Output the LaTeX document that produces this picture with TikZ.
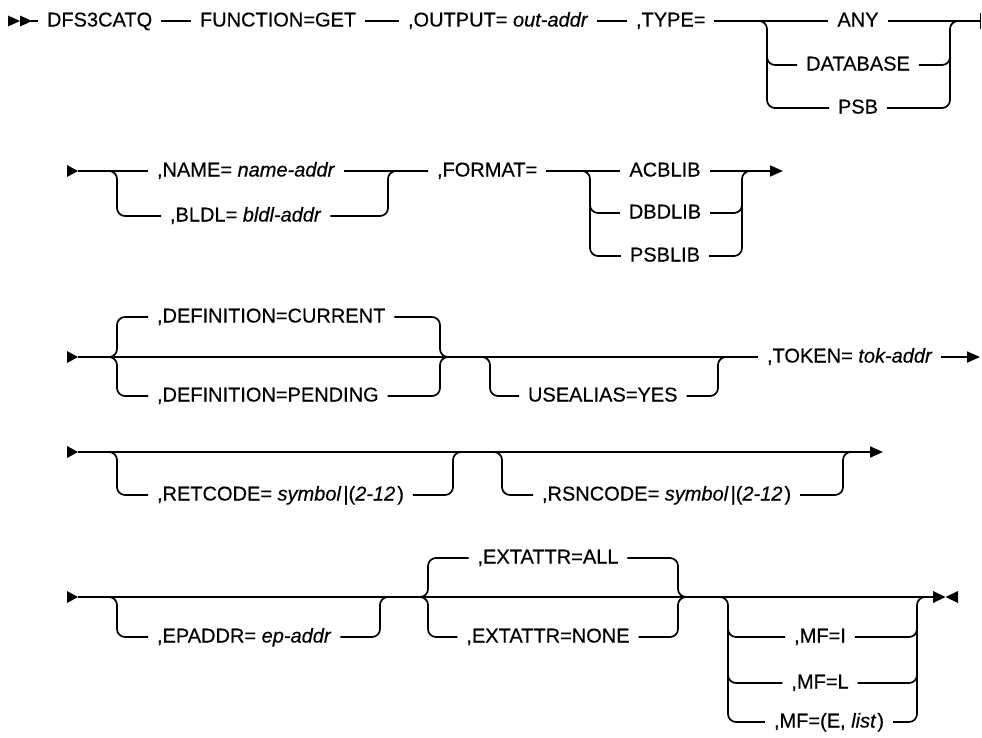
\documentclass[tikz,border=0pt]{standalone}
\usepackage{fontspec}
\setmainfont{Liberation Sans}[FakeBold=0.4,ItalicFeatures={FakeBold=0.4}]
\usetikzlibrary{arrows.meta}
\begin{document}
\begin{tikzpicture}[x=1pt,y=-1pt,line width=1.7pt,
  lbl/.style={inner xsep=9pt,inner ysep=0pt,outer sep=0pt,text height=11pt,text depth=0pt,anchor=west,font=\fontsize{20}{24}\selectfont},
  lblc/.style={lbl,anchor=center},
  rail/.style={rounded corners=8pt},
  endarrow/.style={-{Triangle[length=13pt,width=11pt]}}]
\useasboundingbox (0,0) rectangle (982,737);

% ---------------- Row 1 ----------------
\fill[black] (8,15.5) -- (20,21) -- (8,26.5) -- cycle;
\fill[black] (20,15.5) -- (32,21) -- (20,26.5) -- cycle;
\coordinate (s1) at (31,21);
\node[lbl] (dfs) at (38,21) {DFS3CATQ};
\node[lbl] (fun) at (191,21) {FUNCTION=GET};
\node[lbl] (out) at (399,21) {,OUTPUT= \textit{out-addr}};
\node[lbl] (typ) at (627,21) {,TYPE=};
\node[lblc] (any) at (858,21) {ANY};
\node[lblc] (dat) at (858,65) {DATABASE};
\node[lblc] (psb) at (858,108) {PSB};
\coordinate (tL) at (767,21);
\coordinate (tLm) at (767,40);
\coordinate (tR) at (950,21);
\coordinate (tRm) at (950,40);
\coordinate (e1) at (980,21);
\coordinate (e1a) at (980.5,13);
\coordinate (e1b) at (980.5,29);
\draw (s1) -- (dfs.west);
\draw (dfs.east) -- (fun.west);
\draw (fun.east) -- (out.west);
\draw (out.east) -- (typ.west);
\draw (typ.east) -- (any.west);
\draw[rail] (typ.east) -- (tL) -- (tL |- psb.west) -- (psb.west);
\draw[rail] (tLm) -- (tL |- dat.west) -- (dat.west);
\draw (any.east) -- (e1);
\draw[rail] (psb.east) -- (tR |- psb.east) -- (tR) -- (e1);
\draw[rail] (dat.east) -- (tR |- dat.east) -- (tRm);
\draw (e1a) -- (e1b);

% ---------------- Row 2 ----------------
\fill[black] (67,165) -- (78,171) -- (67,177) -- cycle;
\coordinate (r2) at (78,171);
\node[lbl] (nam) at (148,171) {,NAME= \textit{name-addr}};
\node[lbl] (bld) at (161,216) {,BLDL= \textit{bldl-addr}};
\node[lbl] (fmt) at (428,171) {,FORMAT=};
\coordinate (nL) at (117,171);
\coordinate (nR) at (388,171);
\draw (r2) -- (nam.west);
\draw[rail] (r2) -- (nL) -- (nL |- bld.west) -- (bld.west);
\draw (nam.east) -- (fmt.west);
\draw[rail] (bld.east) -- (nR |- bld.east) -- (nR) -- (fmt.west);
\node[lblc] (acb) at (665,171) {ACBLIB};
\node[lblc] (dbd) at (665,213) {DBDLIB};
\node[lblc] (psl) at (665,256) {PSBLIB};
\coordinate (fL) at (590,171);
\coordinate (fLm) at (590,190);
\coordinate (fR) at (742,171);
\coordinate (fRm) at (742,190);
\coordinate (fRe) at (760,171);
\coordinate (e2) at (783,171);
\draw (fmt.east) -- (acb.west);
\draw[rail] (fmt.east) -- (fL) -- (fL |- psl.west) -- (psl.west);
\draw[rail] (fLm) -- (fL |- dbd.west) -- (dbd.west);
\draw[endarrow] (acb.east) -- (e2);
\draw[rail] (psl.east) -- (fR |- psl.east) -- (fR) -- (fRe);
\draw[rail] (dbd.east) -- (fR |- dbd.east) -- (fRm);

% ---------------- Row 3 ----------------
\fill[black] (67,351) -- (78,357) -- (67,363) -- cycle;
\coordinate (r3) at (78,357);
\node[lbl] (cur) at (148,317) {,DEFINITION=CURRENT};
\node[lbl] (pen) at (148,396) {,DEFINITION=PENDING};
\coordinate (dL) at (117,357);
\coordinate (dR) at (440,357);
\coordinate (dRe) at (455,357);
\draw[rail] (r3) -- (dL) -- (dL |- cur.west) -- (cur.west);
\draw[rail] (r3) -- (dL) -- (dL |- pen.west) -- (pen.west);
\draw[rail] (cur.east) -- (dR |- cur.east) -- (dR) -- (dRe);
\draw[rail] (pen.east) -- (dR |- pen.east) -- (dR) -- (dRe);
\node[lbl] (use) at (519,396) {USEALIAS=YES};
\coordinate (uLs) at (470,357);
\coordinate (uL) at (490,357);
\coordinate (uR) at (718,357);
\coordinate (uRe) at (735,357);
\draw[rail] (uLs) -- (uL) -- (uL |- use.west) -- (use.west);
\draw[rail] (use.east) -- (uR |- use.east) -- (uR) -- (uRe);
\node[lbl] (tok) at (758,357) {,TOKEN= \textit{tok-addr}};
\coordinate (e3) at (980,357);
\draw (r3) -- (tok.west);
\draw[endarrow] (tok.east) -- (e3);

% ---------------- Row 4 ----------------
\fill[black] (67,446) -- (78,452) -- (67,458) -- cycle;
\coordinate (r4) at (78,452);
\node[lbl] (ret) at (148,495) {,RETCODE= \textit{symbol}\kern2pt|(\textit{2-12}\kern2pt)};
\node[lbl] (rsn) at (533,495) {,RSNCODE= \textit{symbol}\kern2pt|(\textit{2-12}\kern2pt)};
\coordinate (rL) at (117,452);
\coordinate (rR) at (453,452);
\coordinate (rRe) at (470,452);
\coordinate (sLs) at (485,452);
\coordinate (sL) at (502,452);
\coordinate (sR) at (843,452);
\coordinate (sRe) at (860,452);
\coordinate (e4) at (883,452);
\draw[endarrow] (r4) -- (e4);
\draw[rail] (r4) -- (rL) -- (rL |- ret.west) -- (ret.west);
\draw[rail] (ret.east) -- (rR |- ret.east) -- (rR) -- (rRe);
\draw[rail] (sLs) -- (sL) -- (sL |- rsn.west) -- (rsn.west);
\draw[rail] (rsn.east) -- (sR |- rsn.east) -- (sR) -- (sRe);

% ---------------- Row 5 ----------------
\fill[black] (67,591) -- (78,597) -- (67,603) -- cycle;
\coordinate (r5) at (78,597);
\node[lbl] (epa) at (148,637) {,EPADDR= \textit{ep-addr}};
\coordinate (pL) at (117,597);
\coordinate (pR) at (380,597);
\coordinate (pRe) at (395,597);
\draw[rail] (r5) -- (pL) -- (pL |- epa.west) -- (epa.west);
\draw[rail] (epa.east) -- (pR |- epa.east) -- (pR) -- (pRe);
\node[lblc] (all) at (548,558) {,EXTATTR=ALL};
\node[lblc] (non) at (548,637) {,EXTATTR=NONE};
\coordinate (xLs) at (410,597);
\coordinate (xL) at (428,597);
\coordinate (xR) at (678,597);
\coordinate (xRe) at (693,597);
\draw[rail] (xLs) -- (xL) -- (xL |- all.west) -- (all.west);
\draw[rail] (xLs) -- (xL) -- (xL |- non.west) -- (non.west);
\draw[rail] (all.east) -- (xR |- all.east) -- (xR) -- (xRe);
\draw[rail] (non.east) -- (xR |- non.east) -- (xR) -- (xRe);
\node[lblc] (mfi) at (820,637) {,MF=I};
\node[lblc] (mfl) at (820,683) {,MF=L};
\node[lblc] (mfe) at (829,722) {,MF=(E, \textit{list}\kern1pt)};
\coordinate (mLs) at (712,597);
\coordinate (mL) at (728,597);
\coordinate (mLm) at (728,615);
\coordinate (mR) at (917,597);
\coordinate (mRm) at (917,615);
\coordinate (mRe) at (932,597);
\coordinate (e5) at (933,597);
\draw (r5) -- (e5);
\draw[rail] (mLs) -- (mL) -- (mL |- mfe.west) -- (mfe.west);
\draw[rail] (mLm) -- (mL |- mfi.west) -- (mfi.west);
\draw[rail] (mLm) -- (mL |- mfl.west) -- (mfl.west);
\draw[rail] (mfe.east) -- (mR |- mfe.east) -- (mR) -- (mRe);
\draw[rail] (mfi.east) -- (mR |- mfi.east) -- (mRm);
\draw[rail] (mfl.east) -- (mR |- mfl.east) -- (mRm);
\fill[black] (933,591) -- (945.5,597) -- (933,603) -- cycle;
\fill[black] (958,591) -- (945.5,597) -- (958,603) -- cycle;
\end{tikzpicture}
\end{document}
